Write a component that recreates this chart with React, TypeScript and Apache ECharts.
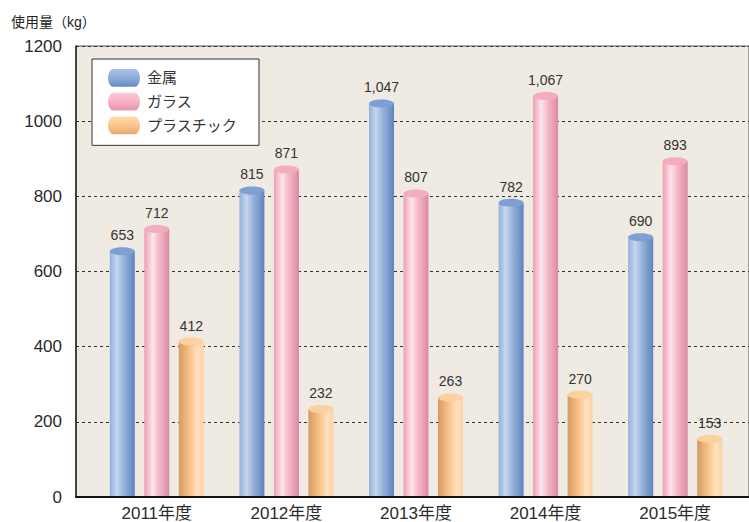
import React, { useEffect, useRef } from "react";
import * as echarts from "echarts";

const categories = ["2011年度", "2012年度", "2013年度", "2014年度", "2015年度"];
const seriesNames = ["金属", "ガラス", "プラスチック"];
const metal = [653, 815, 1047, 782, 690];
const glass = [712, 871, 807, 1067, 893];
const plastic = [412, 232, 263, 270, 153];
const yTicks = { min: 0, max: 1200, interval: 200 };

const FONT = "'Liberation Sans', 'Noto Sans CJK JP', sans-serif";

const bodyStops = [
  [
    [0, "#93b0db"],
    [0.28, "#c6d6ee"],
    [0.55, "#97b3dc"],
    [1, "#5d84bd"],
  ],
  [
    [0, "#f09db3"],
    [0.33, "#fde5eb"],
    [0.6, "#f5b6c7"],
    [1, "#d98aa0"],
  ],
  [
    [0, "#d49a62"],
    [0.45, "#f9c48a"],
    [0.75, "#ffe1bf"],
    [1, "#fbd2a5"],
  ],
];
const topColors = ["#7d9fd3", "#f4adbf", "#fdd09f"];
const legendStops = [
  [
    [0, "#a9c1e6"],
    [0.5, "#8eaddb"],
    [1, "#6289c2"],
  ],
  [
    [0, "#fbc9d5"],
    [0.5, "#f7b1c3"],
    [1, "#e795ab"],
  ],
  [
    [0, "#ffd9b0"],
    [0.5, "#fcc68d"],
    [1, "#e3a86c"],
  ],
];

const grad = (stops: any[], vertical: boolean) => ({
  type: "linear",
  x: 0,
  y: 0,
  x2: vertical ? 0 : 1,
  y2: vertical ? 1 : 0,
  colorStops: stops.map(([offset, color]) => ({ offset, color })),
});

const fmt = (v: number) => v.toLocaleString("en-US");

export default function App() {
  const ref = useRef<HTMLDivElement>(null);
  useEffect(() => {
    document.body.style.margin = "0";
    const chart = echarts.init(ref.current!, null, { renderer: "svg" });
    const datasets = [metal, glass, plastic];
    const offsets = [-34.5, 0, 34.5];
    const barW = 25;
    const ellH = 8;

    const series = datasets.map((vals, si) => ({
      type: "custom",
      name: seriesNames[si],
      xAxisIndex: 1,
      yAxisIndex: 1,
      itemStyle: { color: topColors[si] },
      data: vals.map((v, i) => [i, v]),
      renderItem: (params: any, api: any) => {
        const x = api.value(0);
        const v = api.value(1);
        const top = api.coord([x, v]);
        const base = api.coord([x, 0]);
        const cx = top[0] + offsets[si];
        return {
          type: "group",
          children: [
            {
              type: "rect",
              shape: { x: cx - barW / 2, y: top[1], width: barW, height: base[1] - top[1] },
              style: { fill: grad(bodyStops[si], false) },
            },
            {
              type: "ellipse",
              shape: { cx, cy: top[1], rx: barW / 2, ry: ellH / 2 },
              style: { fill: topColors[si] },
            },
            {
              type: "text",
              style: {
                text: fmt(v),
                x: cx,
                y: top[1] - 16,
                align: "center",
                verticalAlign: "middle",
                font: `14px ${FONT}`,
                fill: "#333",
              },
            },
          ],
        };
      },
    }));

    chart.setOption({
      animation: false,
      backgroundColor: "#ffffff",
      grid: [
        {
          left: 76,
          right: -5,
          top: 46,
          height: 451,
          show: true,
          backgroundColor: "#efebe2",
          borderColor: "#555",
          borderWidth: 1,
        },
        { left: 92, width: 648, top: 46, height: 451 },
      ],
      xAxis: [
        {
          type: "category",
          gridIndex: 0,
          data: categories,
          show: true,
          axisLine: { show: true, lineStyle: { color: "#111", width: 2 } },
          axisTick: { show: false },
          axisLabel: { show: false },
          splitLine: { show: false },
        },
        {
          type: "category",
          gridIndex: 1,
          data: categories,
          axisLine: { show: false },
          axisTick: { show: false },
          axisLabel: {
            margin: 9,
            fontSize: 17,
            color: "#2a2a2a",
            fontFamily: FONT,
          },
        },
      ],
      yAxis: [
        {
          type: "value",
          gridIndex: 0,
          ...yTicks,
          axisLine: { show: true, lineStyle: { color: "#222", width: 1.5 } },
          axisTick: { show: false },
          axisLabel: {
            margin: 14,
            fontSize: 17,
            color: "#2a2a2a",
            fontFamily: FONT,
            formatter: (v: number) => String(v),
          },
          splitLine: {
            show: true,
            lineStyle: { color: "#333", type: [3, 3], width: 1 },
          },
        },
        {
          type: "value",
          gridIndex: 1,
          ...yTicks,
          show: false,
          splitLine: { show: false },
        },
      ],
      legend: {
        left: 92,
        top: 59,
        orient: "vertical",
        backgroundColor: "#ffffff",
        borderColor: "#333",
        borderWidth: 1,
        padding: [10, 22, 11, 16],
        itemWidth: 32,
        itemHeight: 19,
        itemGap: 6,
        textStyle: { fontSize: 15, color: "#333", fontFamily: FONT, padding: [0, 0, 0, 2] },
        data: seriesNames.map((n, si) => ({
          name: n,
          icon: "path://M6,0 L30,0 A6,10 0 0 1 30,20 L6,20 A6,10 0 0 1 6,0 Z",
          itemStyle: { color: grad(legendStops[si], true) },
        })),
      },
      graphic: [
        {
          type: "text",
          left: 11,
          top: 15,
          style: { text: "使用量（kg）", font: `14px ${FONT}`, fill: "#222" },
        },
      ],
      series,
    });
    return () => chart.dispose();
  }, []);
  return (
    <div
      ref={ref}
      style={{ position: "absolute", left: 0, top: 0, width: 749, height: 522 }}
    />
  );
}
